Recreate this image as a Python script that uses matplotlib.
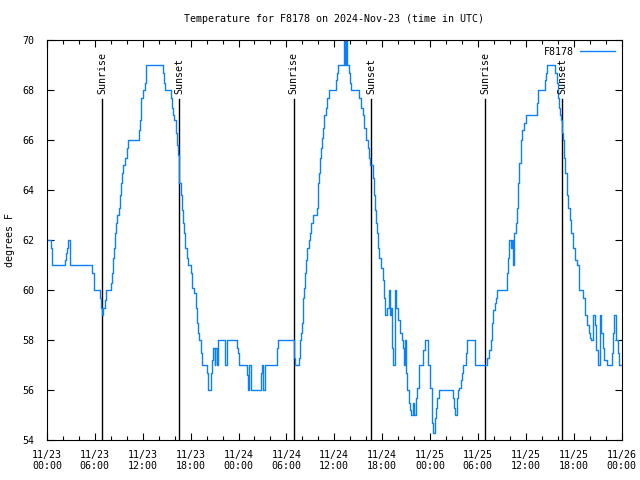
#! /usr/bin/env python3

import numpy as np
import matplotlib
matplotlib.use("Agg")
import matplotlib.pyplot as plt

# hours since 2024-11-23 00:00 UTC, and temperature (F) from that time on
hours = [0.0, 0.46, 0.67, 2.21, 2.38, 2.51, 2.63, 2.84, 5.68, 5.89, 6.64, 6.81, 6.93,
         7.06, 7.23, 7.35, 7.44, 7.98, 8.19, 8.27, 8.40, 8.48, 8.65, 8.81, 9.02, 9.15,
         9.23, 9.36, 9.48, 9.77, 9.98, 10.19, 11.49, 11.65, 11.74, 11.82, 11.99, 12.24,
         12.36, 12.45, 14.49, 14.66, 14.75, 15.50, 15.62, 15.75, 15.91, 16.12, 16.29,
         16.42, 16.50, 16.58, 16.75, 16.92, 17.08, 17.21, 17.33, 17.50, 17.67, 18.09,
         18.21, 18.42, 18.63, 18.80, 18.92, 19.09, 19.26, 19.42, 20.01, 20.18, 20.51,
         20.68, 20.84, 21.01, 21.09, 21.26, 21.39, 22.35, 22.51, 23.77, 23.93, 24.10,
         25.02, 25.19, 25.36, 25.61, 26.78, 26.90, 27.11, 27.32, 28.78, 28.99, 30.99,
         31.13, 31.53, 31.66, 31.78, 31.91, 32.03, 32.12, 32.24, 32.37, 32.50, 32.62,
         32.79, 32.96, 33.13, 33.29, 33.84, 33.93, 34.01, 34.09, 34.17, 34.29, 34.42,
         34.54, 34.71, 34.92, 35.13, 35.30, 36.22, 36.34, 36.47, 37.22, 37.34, 37.43,
         37.55, 37.80, 37.97, 38.14, 39.09, 39.31, 39.56, 39.72, 39.97, 40.18, 40.31,
         40.47, 40.81, 40.98, 41.15, 41.27, 41.40, 41.52, 41.65, 41.90, 42.07, 42.23,
         42.40, 42.61, 42.82, 42.98, 43.07, 43.28, 43.36, 43.57, 43.73, 43.94, 44.24,
         44.45, 44.66, 44.74, 44.83, 44.95, 45.16, 45.33, 45.50, 45.67, 45.83, 46.04,
         46.21, 46.38, 46.63, 47.16, 47.41, 47.75, 48.00, 48.21, 48.33, 48.62, 48.74,
         48.91, 49.16, 50.71, 50.84, 51.00, 51.17, 51.33, 51.50, 51.67, 51.84, 51.96,
         52.17, 52.50, 52.67, 53.59, 55.18, 55.35, 55.60, 55.76, 55.93, 56.10, 56.26,
         56.43, 57.68, 57.81, 57.93, 58.10, 58.27, 58.43, 58.56, 58.73, 58.89, 59.06,
         59.19, 59.36, 59.52, 59.77, 60.03, 61.36, 61.57, 62.41, 62.53, 62.70, 63.70,
         63.87, 64.04, 64.17, 64.29, 64.45, 64.58, 64.70, 64.79, 64.96, 65.12, 65.29,
         65.50, 65.71, 65.92, 66.13, 66.38, 66.63, 67.22, 67.38, 67.63, 67.88, 68.05,
         68.22, 68.38, 68.63, 68.84, 69.09, 69.30, 69.47, 69.63, 69.80, 70.14, 70.76,
         70.93, 71.10, 71.26, 71.52, 71.72, 72.0]
temps = [62.0, 61.7, 61.0, 61.2, 61.5, 61.7, 62.0, 61.0, 60.7, 60.0, 59.7, 59.3, 59.0,
         59.3, 59.6, 59.8, 60.0, 60.3, 60.7, 61.3, 61.7, 62.3, 62.7, 63.0, 63.3, 63.8,
         64.3, 64.7, 65.0, 65.3, 65.7, 66.0, 66.4, 66.8, 67.3, 67.7, 68.0, 68.3,
         68.7, 69.0, 68.7, 68.3, 68.0, 67.7, 67.3, 67.0, 66.8, 66.3, 65.8,
         65.4, 64.8, 64.3, 63.8, 63.2, 62.7, 62.3, 61.7, 61.3, 61.0, 60.7,
         60.1, 59.9, 59.3, 58.7, 58.3, 58.0, 57.5, 57.0, 56.7, 56.0, 56.7,
         57.2, 57.7, 57.0, 57.7, 57.0, 58.0, 57.0, 58.0, 57.7, 57.5, 57.0,
         56.6, 56.0, 57.0, 56.0, 56.7, 57.0, 56.0, 57.0, 57.7, 58.0, 57.3,
         57.0, 57.3, 58.0, 58.3, 58.7, 59.2, 59.7, 60.1, 60.7, 61.2, 61.7,
         62.0, 62.3, 62.7, 63.0, 63.3, 63.8, 64.3, 64.7, 65.3, 65.7, 66.1,
         66.5, 67.0, 67.3, 67.7, 68.0, 68.4, 68.7, 69.0, 70.0, 69.0, 70.0,
         69.0, 68.7, 68.3, 68.0, 67.7, 67.3, 67.0, 66.5, 66.0, 65.7, 65.3,
         65.0, 64.5, 63.8, 63.2, 62.7, 62.3, 61.7, 61.3, 60.9, 60.4, 59.7,
         59.0, 59.3, 60.0, 59.0, 59.3, 57.7, 57.0, 60.0, 59.3, 58.8, 58.3,
         58.0, 57.7, 57.0, 58.0, 56.7, 56.0, 55.5, 55.2, 55.0, 55.5, 55.0,
         55.7, 56.1, 57.0, 57.6, 58.0, 57.0, 56.1, 54.7, 54.3, 54.9, 55.3,
         55.7, 56.0, 56.0, 55.7, 55.3, 55.0, 55.7, 56.0, 56.1, 56.4, 56.7,
         57.0, 57.5, 58.0, 57.0, 57.3, 57.6, 58.0, 58.7, 59.2, 59.5, 59.7,
         60.0, 60.7, 61.3, 62.0, 61.7, 62.0, 61.0, 62.3, 62.7, 63.3, 64.3,
         65.1, 66.0, 66.4, 66.7, 67.0, 67.5, 68.0, 68.4, 68.7, 69.0, 68.7,
         68.3, 67.7, 67.3, 67.0, 66.8, 66.3, 66.0, 65.3, 64.7, 63.8, 63.3,
         62.8, 62.3, 61.7, 61.2, 61.0, 60.0, 59.7, 59.0, 58.6, 58.3, 58.1,
         58.0, 59.0, 58.6, 57.6, 57.0, 59.0, 58.3, 57.7, 57.2, 57.0, 57.5,
         58.3, 59.0, 58.0, 57.5, 57.0, 57.0]

sunrise = [6.9, 30.9, 54.9]
sunset = [16.58, 40.6, 64.6]

xtick_pos = np.arange(0, 73, 6)
xtick_labels = ["11/23\n00:00", "11/23\n06:00", "11/23\n12:00", "11/23\n18:00",
                "11/24\n00:00", "11/24\n06:00", "11/24\n12:00", "11/24\n18:00",
                "11/25\n00:00", "11/25\n06:00", "11/25\n12:00", "11/25\n18:00",
                "11/26\n00:00"]

plt.rcParams['font.family'] = ['DejaVu Sans Mono']
fs = 7.2

fig = plt.figure(figsize=(6.4, 4.8), dpi=100)
ax = fig.add_axes([47/640, 40/480, 574.5/640, 400/480])

for h in sunrise:
    ax.plot([h, h], [54, 67.65], color='black', lw=1.0)
    ax.text(h, 67.85, "Sunrise", rotation=90, ha='center', va='bottom', fontsize=fs)
for h in sunset:
    ax.plot([h, h], [54, 67.65], color='black', lw=1.0)
    ax.text(h, 67.85, "Sunset", rotation=90, ha='center', va='bottom', fontsize=fs)

ax.plot(hours, temps, drawstyle='steps-post', color='#0a80ff', lw=1.0, label='F8178')

ax.set_xlim(0, 72)
ax.set_ylim(54, 70)
ax.set_xticks(xtick_pos)
ax.set_xticklabels(xtick_labels, fontsize=fs)
ax.set_xticks(np.arange(0, 73, 2), minor=True)
ax.set_yticks(np.arange(54, 71, 2))
ax.tick_params(labelsize=fs, direction='in', top=True, right=True, length=5, width=0.8)
ax.tick_params(which='minor', direction='in', top=True, length=3, width=0.8)
ax.tick_params(axis='x', pad=7)
ax.tick_params(axis='y', pad=9)
for s in ax.spines.values():
    s.set_linewidth(0.8)

ax.set_title("Temperature for F8178 on 2024-Nov-23 (time in UTC)", fontsize=fs, pad=13)
fig.text(10/640, 0.5, "degrees F", rotation=90, ha='center', va='center', fontsize=fs)
ax.legend(loc='upper right', frameon=False, fontsize=fs, markerfirst=False,
          handlelength=3.5, borderaxespad=0.3, handletextpad=0.6)

fig.savefig("out.png", dpi=100)
